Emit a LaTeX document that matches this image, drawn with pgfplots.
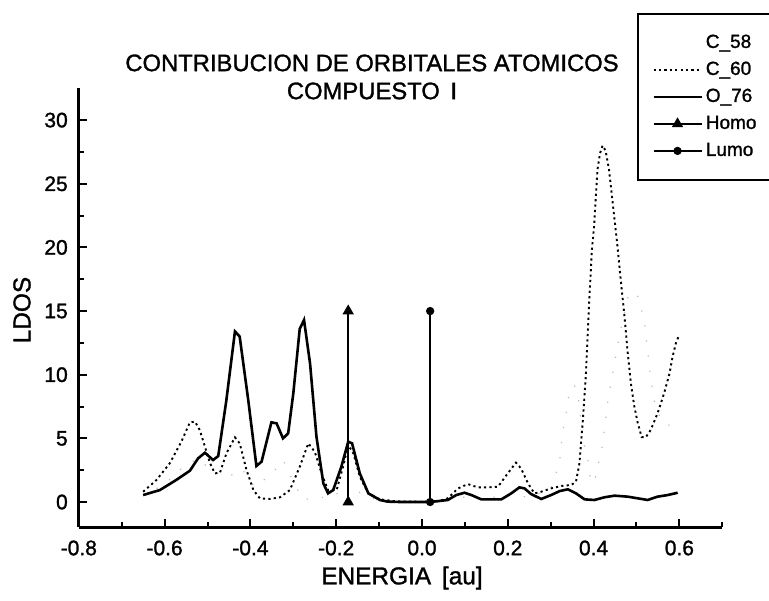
\documentclass[border=0pt]{standalone}
\usepackage{fontspec}
\setmainfont{Liberation Sans}[FakeBold=1.3]
\usepackage{pgfplots}
\pgfplotsset{compat=1.18}

% Local density of states per atom (energies in au)
\pgfplotstableread{
E L
-0.650 0.50
-0.600 1.40
-0.549 3.00
-0.520 3.40
-0.490 2.40
-0.450 2.00
-0.420 2.60
-0.390 1.20
-0.350 2.20
-0.324 3.30
-0.300 1.60
-0.278 0.20
-0.240 0.30
-0.200 0.60
-0.172 1.50
-0.140 0.60
-0.100 0.10
0.000 0.00
0.060 0.10
0.100 0.40
0.150 0.30
0.200 0.50
0.250 0.40
0.300 1.00
0.320 3.00
0.328 5.50
0.336 7.00
0.340 8.10
0.355 9.20
0.365 8.00
0.375 5.00
0.386 3.40
0.394 1.47
0.405 2.00
0.421 4.50
0.433 7.90
0.437 8.70
0.460 13.0
0.480 16.1
0.500 16.5
0.518 14.3
0.529 10.9
0.533 9.80
0.545 7.20
0.570 6.00
0.596 6.20
}\cfiftyeight

\pgfplotstableread{
E L
-0.650 0.81
-0.619 1.73
-0.588 3.04
-0.561 4.74
-0.541 6.26
-0.529 6.31
-0.518 5.65
-0.506 4.35
-0.494 3.04
-0.483 2.25
-0.471 2.30
-0.456 3.82
-0.436 5.08
-0.425 4.61
-0.409 2.51
-0.393 0.94
-0.378 0.29
-0.355 0.24
-0.331 0.37
-0.308 0.94
-0.285 2.77
-0.265 4.61
-0.250 3.95
-0.234 2.25
-0.219 0.94
-0.199 0.94
-0.184 2.77
-0.172 4.48
-0.160 3.82
-0.145 1.99
-0.125 0.68
-0.098 0.21
-0.060 0.05
0.000 0.02
0.040 0.08
0.060 0.29
0.084 1.07
0.107 1.41
0.130 1.15
0.153 1.15
0.177 1.20
0.200 2.25
0.219 3.09
0.231 2.64
0.247 1.47
0.262 0.68
0.278 0.81
0.301 1.07
0.324 1.26
0.348 1.34
0.359 1.60
0.367 3.04
0.375 6.44
0.382 10.0
0.390 15.9
0.396 19.8
0.401 21.6
0.409 26.1
0.415 27.4
0.421 28.0
0.428 27.6
0.436 26.1
0.455 20.3
0.464 17.2
0.472 14.6
0.479 11.9
0.487 9.30
0.495 7.50
0.503 6.20
0.512 5.10
0.522 5.10
0.533 5.65
0.549 6.96
0.564 8.50
0.577 10.1
0.584 11.4
0.592 12.5
0.598 13.0
}\csixty

\pgfplotstableread{
E L
-0.650 0.55
-0.611 0.94
-0.573 1.73
-0.541 2.46
-0.522 3.43
-0.506 3.87
-0.487 3.30
-0.475 3.61
-0.456 8.00
-0.436 13.4
-0.425 13.0
-0.405 8.00
-0.386 2.83
-0.374 3.17
-0.351 6.26
-0.339 6.18
-0.324 5.00
-0.312 5.39
-0.300 8.53
-0.285 13.6
-0.275 14.3
-0.261 10.9
-0.246 5.13
-0.230 1.47
-0.219 0.68
-0.207 0.94
-0.188 2.77
-0.172 4.74
-0.163 4.61
-0.145 2.25
-0.125 0.68
-0.098 0.16
-0.080 0.03
-0.049 0.00
0.019 0.00
0.060 0.16
0.080 0.55
0.099 0.73
0.115 0.55
0.138 0.21
0.185 0.21
0.208 0.68
0.227 1.15
0.239 1.07
0.254 0.63
0.278 0.24
0.301 0.55
0.321 0.86
0.340 1.00
0.359 0.68
0.379 0.21
0.402 0.16
0.425 0.37
0.449 0.50
0.480 0.42
0.503 0.29
0.526 0.16
0.549 0.42
0.573 0.55
0.596 0.73
}\oseventysix

\begin{document}
\begin{tikzpicture}
\begin{axis}[
  scale only axis,
  width=321.75pt, height=219.6pt,
  xmin=-0.8, xmax=0.7, ymin=-2, ymax=32.5,
  axis x line*=bottom, axis y line*=left,
  axis line style={line width=1.4pt},
  clip=false,
  xtick={-0.8,-0.6,-0.4,-0.2,0,0.2,0.4,0.6},
  xticklabels={-0.8,-0.6,-0.4,-0.2,0.0,0.2,0.4,0.6},
  minor xtick={-0.7,-0.5,-0.3,-0.1,0.1,0.3,0.5,0.7},
  ytick={0,5,10,15,20,25,30},
  minor ytick={2.5,7.5,12.5,17.5,22.5,27.5},
  tick align=inside,
  major tick length=4pt, minor tick length=2.5pt,
  tick style={line width=1pt, black},
  ticklabel style={font=\fontsize{10.5}{12}\selectfont},
  yticklabel style={/pgf/number format/assume math mode=true, xshift=-2pt},
  xticklabel style={yshift=-3pt},
  legend cell align=left,
  legend image code/.code={%
    \draw[mark repeat=2,mark phase=2,#1]
      plot coordinates {(0pt,0pt) (12pt,0pt) (24pt,0pt)};},
  legend style={
    at={(0.8678,1.1716)}, anchor=north west,
    draw=black, line width=1pt,
    font=\fontsize{9.5}{11}\selectfont,
    inner xsep=7pt, inner ysep=9pt, row sep=2.5pt,
    nodes={inner xsep=1.5pt, inner ysep=1pt, text height=7pt, text depth=2pt}},
]
\addplot[gray!55, line width=0.6pt, dash pattern=on 0.6pt off 7pt,
  legend image code/.code={}] table[x=E, y=L] {\cfiftyeight};
\addlegendentry{C\_58}
\addplot[black, line width=0.95pt, dash pattern=on 1.1pt off 1.6pt]
  table[x=E, y=L] {\csixty};
\addlegendentry{C\_60}
\addplot[black, line width=1.3pt] table[x=E, y=L] {\oseventysix};
\addlegendentry{O\_76}
\addplot[black, line width=0.9pt, mark=triangle*, mark size=2.4pt,
  mark options={solid}] coordinates {(-0.172,0) (-0.172,15)};
\addlegendentry{Homo}
\addplot[black, line width=0.9pt, mark=*, mark size=1.6pt,
  mark options={solid}] coordinates {(0.019,0) (0.019,15)};
\addlegendentry{Lumo}

\node[align=center, font=\fontsize{11.9}{14}\selectfont]
  at (axis cs:-0.1166,33.39)
  {CONTRIBUCION DE ORBITALES ATOMICOS\\COMPUESTO \,I};
\node[font=\fontsize{12.2}{14}\selectfont] at (axis cs:-0.0466,-5.97)
  {ENERGIA\, [au]};
\node[rotate=90, font=\fontsize{12.2}{14}\selectfont]
  at (axis cs:-0.9324,15.08) {LDOS};

\coordinate (bbSW) at (axis cs:-0.9837,-7.698);
\coordinate (bbNE) at (axis cs:0.8089,39.435);
\end{axis}
\pgfresetboundingbox
\useasboundingbox (bbSW) rectangle (bbNE);
\end{tikzpicture}
\end{document}
